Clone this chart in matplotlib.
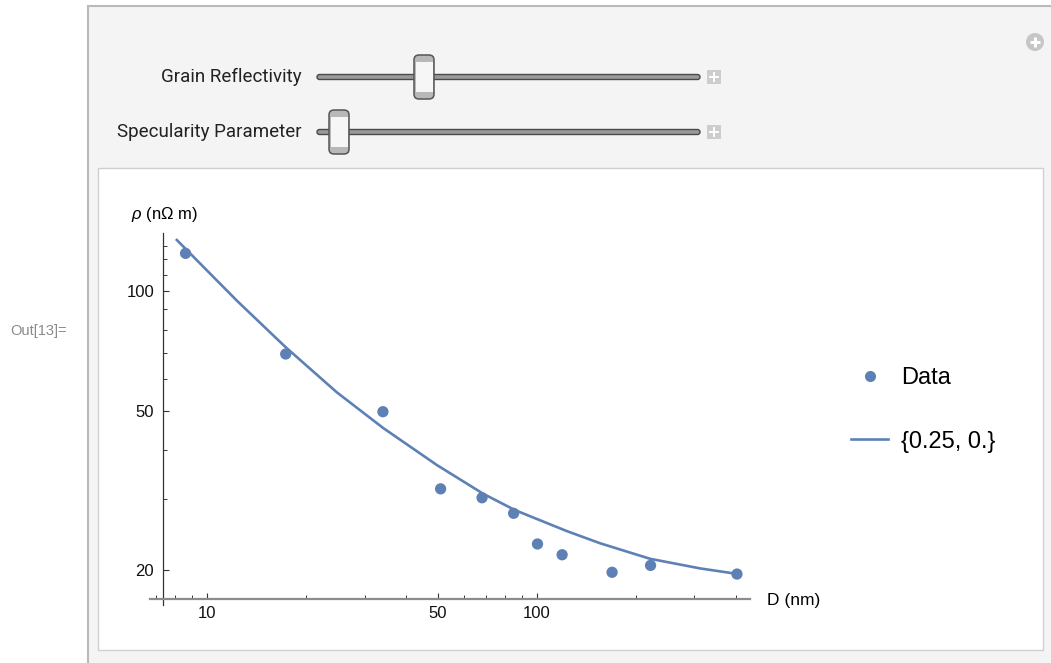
import matplotlib
matplotlib.use("Agg")
import matplotlib.pyplot as plt
from matplotlib.patches import Rectangle, FancyBboxPatch, Circle
from matplotlib.lines import Line2D
from matplotlib.ticker import FixedLocator, NullFormatter

plt.rcParams['font.family'] = ['Liberation Sans', 'DejaVu Sans']
plt.rcParams['mathtext.fontset'] = 'custom'
plt.rcParams['mathtext.it'] = 'Liberation Sans:italic'
plt.rcParams['mathtext.rm'] = 'Liberation Sans'

# data
D_data = [8.6, 17.3, 34.1, 51.0, 68.1, 84.9, 100.3, 119.1, 168.8, 220.8, 403.6]
rho_data = [124.3, 69.5, 49.8, 31.9, 30.3, 27.7, 23.2, 21.8, 19.7, 20.5, 19.5]

D_fit = [8.04, 12.3, 17.23, 24.72, 34.2, 49.7, 68.7, 85.8, 123, 155.2, 220, 311.8, 407.4]
rho_fit = [135.0, 94.6, 72.5, 55.7, 45.3, 36.6, 31.0, 28.2, 25.0, 23.3, 21.3, 20.15, 19.5]

x_major = [10, 50, 100]
x_minor = [7, 8, 9, 20, 30, 40, 60, 70, 80, 90, 200, 300, 400]
y_major = [20, 50, 100]
y_minor = [30, 40, 60, 70, 80, 90, 110, 120, 130]

slider_labels = ["Grain Reflectivity", "Specularity Parameter"]
slider_values = [0.25, 0.0]
legend_labels = ["Data", "{0.25, 0.}"]

blue = '#5E81B5'
W, H = 1051, 663
fig = plt.figure(figsize=(W / 100, H / 100), dpi=100)
fig.patch.set_facecolor('white')

# ---- Manipulate panel (pixel coordinates) ----
ui = fig.add_axes([0, 0, 1, 1], zorder=0)
ui.set_xlim(0, W)
ui.set_ylim(H, 0)
ui.axis('off')

ui.add_patch(Rectangle((88, 6), W - 86, H, facecolor='#f4f4f4', edgecolor='#b9b9b9', lw=1.5))
ui.add_patch(Rectangle((98, 168), 945, 482, facecolor='white', edgecolor='#d0d0d0', lw=1))

ui.text(10, 331, "Out[13]=", fontsize=10.5, color='#8a8a8a', va='center', ha='left')

# circle plus top right
ui.add_patch(Circle((1035, 42), 9, facecolor='#c6c6c6', edgecolor='none'))
ui.plot([1030, 1040], [42, 42], color='white', lw=2.2, solid_capstyle='butt')
ui.plot([1035, 1035], [37, 47], color='white', lw=2.2, solid_capstyle='butt')

track_x0, track_x1 = 317, 700
for i, (lab, val) in enumerate(zip(slider_labels, slider_values)):
    yc = 77 + i * 55
    ui.text(302, yc, lab, fontsize=13.5, color='#222222', ha='right', va='center',
            family='Roboto')
    ui.add_patch(FancyBboxPatch((track_x0, yc - 2.5), track_x1 - track_x0, 5,
                                boxstyle='round,pad=0,rounding_size=2.5',
                                facecolor='#9a9a9a', edgecolor='#4a4a4a', lw=1))
    # thumb position from slider value
    tx = 339 + val * (424 - 339) / 0.25
    ui.add_patch(FancyBboxPatch((tx - 10, yc - 22), 20, 44,
                                boxstyle='round,pad=0,rounding_size=5',
                                facecolor='#b8b8b8', edgecolor='#555555', lw=1.1))
    ui.add_patch(Rectangle((tx - 8.5, yc - 15), 17, 30, facecolor='#f6f6f6', edgecolor='none'))
    # plus button
    ui.add_patch(Rectangle((707, yc - 7), 14, 14, facecolor='#cdcdcd', edgecolor='none'))
    ui.plot([710, 718], [yc, yc], color='white', lw=1.4)
    ui.plot([714, 714], [yc - 4, yc + 4], color='white', lw=1.4)

# ---- log-log plot ----
ax = fig.add_axes([150 / W, (H - 605) / H, 600 / W, 372 / H], zorder=1)
ax.set_facecolor('none')
ax.set_xscale('log')
ax.set_yscale('log')

ax.plot(D_fit, rho_fit, color=blue, lw=1.9, solid_capstyle='butt', solid_joinstyle='round', zorder=2)
ax.scatter(D_data, rho_data, s=66, color=blue, edgecolors='none', zorder=3)

ax.set_xlim(6.71, 442)
ax.set_ylim(16.31, 139.8)

for s in ['top', 'right']:
    ax.spines[s].set_visible(False)
ax.spines['left'].set_position(('data', 7.36))
ax.spines['bottom'].set_position(('data', 16.88))
ax.spines['bottom'].set_color('#8c8c8c')
ax.spines['bottom'].set_linewidth(1.6)
ax.spines['left'].set_color('#333333')
ax.spines['left'].set_linewidth(0.9)

ax.xaxis.set_major_locator(FixedLocator(x_major))
ax.xaxis.set_minor_locator(FixedLocator(x_minor))
ax.yaxis.set_major_locator(FixedLocator(y_major))
ax.yaxis.set_minor_locator(FixedLocator(y_minor))
ax.set_xticklabels([str(v) for v in x_major])
ax.set_yticklabels([str(v) for v in y_major])
ax.xaxis.set_minor_formatter(NullFormatter())
ax.yaxis.set_minor_formatter(NullFormatter())
ax.tick_params(which='both', direction='in', color='#333333', labelsize=12, labelcolor='#111111')
ax.tick_params(which='major', length=4.5, width=0.8)
ax.tick_params(which='minor', length=2.6, width=0.7)
ax.tick_params(axis='x', pad=5)
ax.tick_params(axis='y', pad=6.5)

fig.text(131 / W, 1 - 215 / H, r'$\rho$ (nΩ m)', fontsize=12, va='center', ha='left')
fig.text(767 / W, 1 - 600 / H, 'D (nm)', fontsize=12.5, va='center', ha='left')

handles = [Line2D([], [], ls='none', marker='o', ms=8, color=blue, mec='none'),
           Line2D([], [], color=blue, lw=1.9)]
ax.legend(handles, legend_labels, loc='center left', bbox_to_anchor=(851 / W, 1 - 410 / H),
          bbox_transform=fig.transFigure, frameon=False, fontsize=17,
          handlelength=1.57, handletextpad=0.55, labelspacing=1.75, borderpad=0,
          borderaxespad=0)

fig.savefig('out.png', dpi=100, facecolor=fig.get_facecolor())
